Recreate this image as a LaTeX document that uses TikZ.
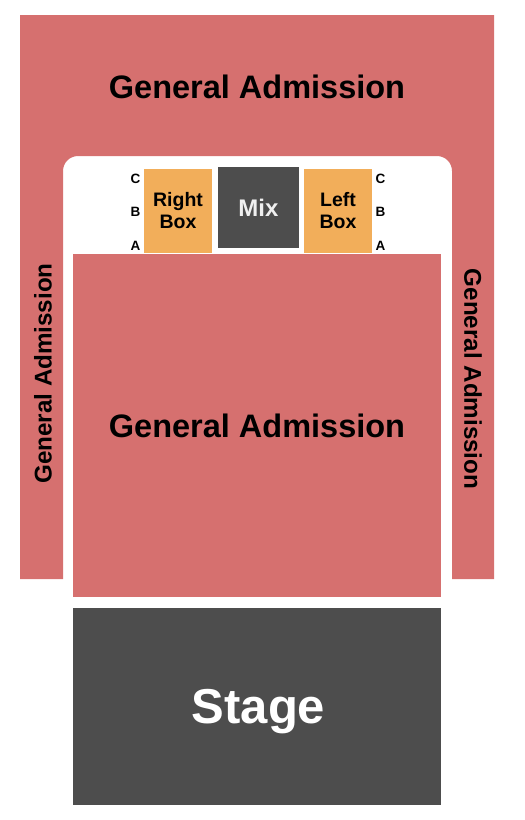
\documentclass[tikz,border=0pt]{standalone}
\usepackage{fontspec}
\setmainfont{Liberation Sans}
\definecolor{gared}{RGB}{214,112,111}
\definecolor{boxorange}{RGB}{242,174,90}
\definecolor{darkgrey}{RGB}{77,77,77}
\begin{document}
\begin{tikzpicture}[x=1pt,y=-1pt,
  block/.style={inner sep=0pt, outer sep=0pt},
  ga/.style={block, fill=gared},
  boxseat/.style={block, fill=boxorange, minimum width=68pt, minimum height=84pt},
  txt/.style={inner sep=0pt, anchor=base, font=\bfseries},
  galabel/.style={txt, font=\fontsize{32.5}{36}\selectfont\bfseries},
  sidelabel/.style={inner sep=0pt, font=\fontsize{24.2}{28}\selectfont\bfseries},
  boxlabel/.style={txt, font=\fontsize{19.5}{21.6}\selectfont\bfseries},
  rowlabel/.style={txt, font=\fontsize{13.5}{14}\selectfont\bfseries}]
\useasboundingbox (0,0) rectangle (525,820);
% outer general admission horseshoe
\fill[gared] (20,15) -- (494,15) -- (494,579) -- (452,579) -- (452,171)
  arc[start angle=0, end angle=-90, radius=15] -- (78,156)
  arc[start angle=-90, end angle=-180, radius=15] -- (63,579) -- (20,579) -- cycle;
\node[galabel] (gatop) at (257,98) {General Admission};
\node[sidelabel, rotate=90] (galeft) at (43,373.5) {General Admission};
\node[sidelabel, rotate=-90] (garight) at (473,379) {General Admission};
% main floor
\node[ga, minimum width=368pt, minimum height=343pt] (main) at (257,425.5) {};
\node[galabel] (mainlabel) at (257,437) {General Admission};
% stage
\node[block, fill=darkgrey, minimum width=368pt, minimum height=197pt] (stage) at (257,706.5) {};
\node[txt, text=white, font=\fontsize{49}{52}\selectfont\bfseries] (stagelabel) at (258.5,723) {Stage};
% boxes and mix
\node[boxseat] (rightbox) at (178,211) {};
\node[boxlabel] (rightlabel1) at (178,206.7) {Right};
\node[boxlabel] (rightlabel2) at (178,228.3) {Box};
\node[block, fill=darkgrey, minimum width=81pt, minimum height=81pt] (mix) at (258.5,207.5) {};
\node[txt, text=white!94!black, font=\fontsize{24}{26}\selectfont\bfseries] (mixlabel) at (258.5,216) {Mix};
\node[boxseat] (leftbox) at (338,211) {};
\node[boxlabel] (leftlabel1) at (338,206.7) {Left};
\node[boxlabel] (leftlabel2) at (338,228.3) {Box};
% row labels
\node[rowlabel] (rc) at (135.5,183.3) {C};
\node[rowlabel] (rb) at (135.5,216) {B};
\node[rowlabel] (ra) at (135.5,250.3) {A};
\node[rowlabel] (lc) at (380.5,183.3) {C};
\node[rowlabel] (lb) at (380.5,216) {B};
\node[rowlabel] (la) at (380.5,250.3) {A};
\end{tikzpicture}
\end{document}
